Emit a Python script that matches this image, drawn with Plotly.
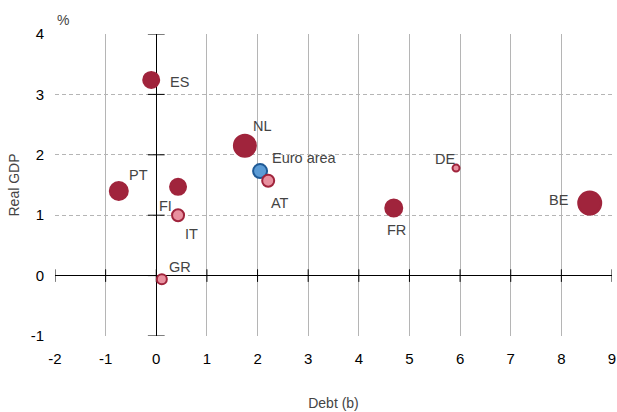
import plotly.graph_objects as go

# ---- data ----
countries = ["ES", "PT", "FI", "IT", "GR", "NL", "Euro area", "AT", "DE", "FR", "BE"]
debt = [-0.10, -0.74, 0.43, 0.43, 0.11, 1.75, 2.05, 2.21, 5.92, 4.69, 8.56]
real_gdp = [3.24, 1.40, 1.47, 1.00, -0.06, 2.15, 1.73, 1.57, 1.78, 1.12, 1.20]
weight = [8, 9, 8, 6, 5, 11, 7, 6, 3.5, 8.5, 11.5]
group = ["dark", "dark", "dark", "light", "light", "dark", "ea", "light", "light", "dark", "dark"]
x_ticks = [-2, -1, 0, 1, 2, 3, 4, 5, 6, 7, 8, 9]
y_ticks = [-1, 0, 1, 2, 3, 4]

# ---- styles ----
fill = {"dark": "#a0243c", "light": "#e8909f", "ea": "#5b9bd5"}
edge = {"dark": "#a0243c", "light": "#a0243c", "ea": "#1f5a96"}
label_offsets = {
    "ES": (28, -2), "PT": (20, 16), "FI": (-13, -19), "IT": (13, -19),
    "GR": (18, 12), "NL": (18, 20), "Euro area": (44, 13), "AT": (12, -22),
    "DE": (-11, 9), "FR": (3, -22), "BE": (-31, 3),
}

fig = go.Figure()

# tick marks on zero lines
fig.add_trace(go.Scatter(
    x=x_ticks, y=[0] * len(x_ticks), mode="markers", hoverinfo="skip",
    marker=dict(symbol="line-ns-open", size=9, color="black", line=dict(color="black", width=1)),
    showlegend=False))
fig.add_trace(go.Scatter(
    x=[0] * len(y_ticks), y=y_ticks, mode="markers", hoverinfo="skip",
    marker=dict(symbol="line-ew-open", size=12, color="black", line=dict(color="black", width=1)),
    showlegend=False))

fig.add_trace(go.Scatter(
    x=debt, y=real_gdp, mode="markers", showlegend=False,
    marker=dict(size=[2 * w for w in weight],
                color=[fill[g] for g in group],
                line=dict(color=[edge[g] for g in group], width=2),
                opacity=1),
))

for c, xv, yv in zip(countries, debt, real_gdp):
    dx, dy = label_offsets[c]
    fig.add_annotation(x=xv, y=yv, text=c, showarrow=False, xshift=dx, yshift=dy,
                       font=dict(size=14.5, color="#444444", family="Liberation Sans, Arial"))

fig.add_annotation(x=0, y=1, xref="paper", yref="paper", text="%", showarrow=False,
                   xshift=0, yshift=24, font=dict(size=14, color="#444444"))

fig.update_layout(
    width=617, height=412,
    margin=dict(l=55, r=5, t=34, b=76),
    plot_bgcolor="white", paper_bgcolor="white",
    font=dict(family="Liberation Sans, Arial", size=15, color="black"),
    xaxis=dict(range=[-2, 9], tickvals=x_ticks, ticktext=[str(v) for v in x_ticks],
               showgrid=True, gridcolor="#b5b5b5", automargin=False,
               gridwidth=1, zeroline=True, zerolinecolor="black", zerolinewidth=1.3,
               showline=False, ticks="", ticklabelstandoff=12,
               title=dict(text="Debt (b)", font=dict(size=14, color="#444444"), standoff=32)),
    yaxis=dict(range=[-1, 4], tickvals=y_ticks, ticktext=[str(v) for v in y_ticks],
               showgrid=True, gridcolor="#b5b5b5", automargin=False,
               griddash="4px,3px", gridwidth=1, zeroline=True, zerolinecolor="black",
               zerolinewidth=1.3, showline=False, ticks="", ticklabelstandoff=10,
               title=dict(text="Real GDP", font=dict(size=14, color="#444444"), standoff=7)),
)

fig.write_html("out.html", config={"displayModeBar": False},
               post_script="document.body.style.margin='0';")
